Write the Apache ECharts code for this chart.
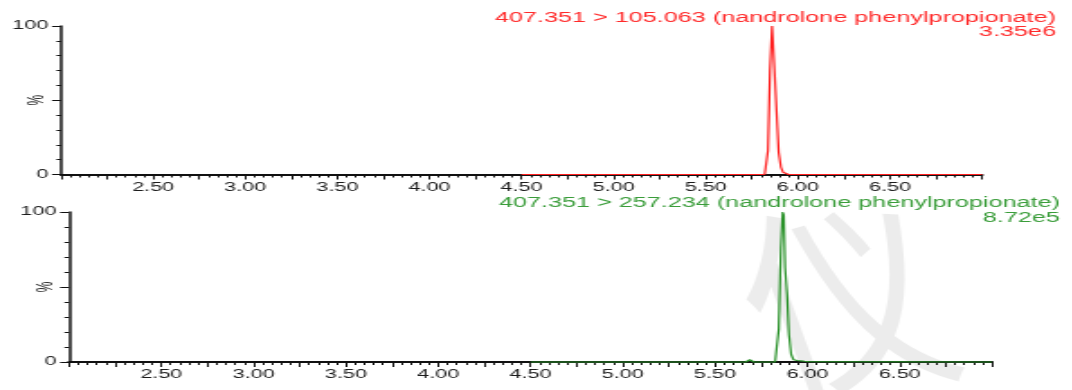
<!DOCTYPE html>
<html>
<head>
<meta charset="utf-8">
<script src="https://cdn.jsdelivr.net/npm/echarts@6/dist/echarts.min.js"></script>
<style>
  html, body { margin: 0; padding: 0; background: #fff; }
  #wrap { width: 1072px; height: 390px; overflow: hidden; background: #fff; }
  #chart { height: 390px; transform-origin: 0 0; }
</style>
</head>
<body>
<div id="wrap"><div id="chart"></div></div>
<script>
// Retention time (min) and relative intensity (%) of each MRM trace
const redTime  = [4.50, 5.31, 5.32, 5.33, 5.820, 5.829, 5.838, 5.849, 5.860, 5.866, 5.875, 5.885, 5.896, 5.908, 5.920, 5.935, 5.950, 7.00];
const redPct   = [0,    0,    0.6,  0,    0,     0.5,   16,    70,    100,   99,    66,    42,    15,    5,     1.5,   0.3,   0,     0];

const greenTime = [4.50, 5.665, 5.678, 5.688, 5.698, 5.710, 5.825, 5.838, 5.845, 5.856, 5.866, 5.872, 5.879, 5.890, 5.900, 5.912, 5.925, 5.945, 5.965, 5.985, 5.995, 6.005, 6.020, 7.00];
const greenPct  = [0,    0,     1.2,   1.5,   0.4,   0,     0,     1,     22,    76,    100,   98,    63,    45,    18,    5,     1.5,   1,     0.8,   0.5,   1,     0.3,   0,     0];

// Trace headers: transition / compound, and base-peak intensity
const redTitle   = '407.351 > 105.063 (nandrolone phenylpropionate)';
const redScale   = '3.35e6';
const greenTitle = '407.351 > 257.234 (nandrolone phenylpropionate)';
const greenScale = '8.72e5';

// Tick labels
const xLabels = ['2.50', '3.00', '3.50', '4.00', '4.50', '5.00', '5.50', '6.00', '6.50'];
const yLabels = ['0', '100'];

// The plot is laid out narrow and widened horizontally as a whole
const S = 1.8;
const W = 1072 / S;
const FONT = '"Liberation Sans", Arial, sans-serif';
const INK = '#111';
const LABEL = '#1c1c1c';

const el = document.getElementById('chart');
el.style.width = W + 'px';
el.style.transform = 'scaleX(' + S + ')';

function pairs(t, v) { return t.map((x, i) => [x, v[i]]); }

function xAxisFor(idx) {
  return {
    type: 'value', gridIndex: idx, min: 2, max: 7, interval: 0.25,
    axisLine: { show: true, onZero: false, lineStyle: { color: INK, width: 2 } },
    axisTick: { show: true, length: 5, lineStyle: { color: INK, width: 1 } },
    minorTick: { show: true, splitNumber: 5, length: 3, lineStyle: { color: INK, width: 1 } },
    splitLine: { show: false },
    axisLabel: {
      margin: 7, color: LABEL, fontSize: 12, fontFamily: FONT,
      formatter: v => { const s = v.toFixed(2); return xLabels.includes(s) ? s : ''; }
    }
  };
}

function yAxisFor(idx) {
  return {
    type: 'value', gridIndex: idx, min: 0, max: 100, interval: 50,
    name: '%', nameLocation: 'middle', nameGap: 7, nameRotate: 90, nameMoveOverlap: false,
    nameTextStyle: { color: LABEL, fontSize: 12, fontFamily: FONT },
    axisLine: { show: true, lineStyle: { color: INK, width: 1.5 } },
    axisTick: { show: true, length: 5, lineStyle: { color: INK, width: 1 } },
    minorTick: { show: true, splitNumber: 5, length: 2.5, lineStyle: { color: INK, width: 1 } },
    splitLine: { show: false },
    axisLabel: {
      margin: 7, color: LABEL, fontSize: 12, fontFamily: FONT,
      formatter: v => yLabels.includes(String(v)) ? String(v) : ''
    }
  };
}

function header(text, x, y, color) {
  return {
    type: 'text', x: x, y: y, z: 10,
    style: { text: text, fill: color, font: '14px ' + FONT, textAlign: 'right', textVerticalAlign: 'middle' }
  };
}

const chart = echarts.init(el, null, { renderer: 'canvas' });
chart.setOption({
  animation: false,
  backgroundColor: '#fff',
  grid: [
    { left: 61 / S, top: 26, width: (982 - 61) / S, height: 148.5, containLabel: false, outerBoundsMode: 'none' },
    { left: 69 / S, top: 212, width: (992 - 69) / S, height: 150, containLabel: false, outerBoundsMode: 'none' }
  ],
  xAxis: [xAxisFor(0), xAxisFor(1)],
  yAxis: [yAxisFor(0), yAxisFor(1)],
  series: [
    {
      type: 'line', xAxisIndex: 0, yAxisIndex: 0, data: pairs(redTime, redPct),
      showSymbol: false, clip: false, z: 5,
      lineStyle: { color: '#ff1f1f', width: 1.2 }
    },
    {
      type: 'line', xAxisIndex: 1, yAxisIndex: 1, data: pairs(greenTime, greenPct),
      showSymbol: false, clip: false, z: 5,
      lineStyle: { color: '#2a922a', width: 1.2 }
    }
  ],
  graphic: [
    // faint site watermark (kept at its own proportions)
    {
      type: 'text', x: 845 / S, y: 300, rotation: 0.2, scaleX: 1 / S, z: 1,
      style: { text: '仪', fill: 'rgba(0,0,0,0.075)', font: '200px "Noto Sans CJK SC"', textAlign: 'center', textVerticalAlign: 'middle' }
    },
    header(redTitle, 1056 / S, 18, '#ff2a2a'),
    header(redScale, 1056 / S, 32, '#ff2a2a'),
    header(greenTitle, 1060 / S, 203, '#3a9d3a'),
    header(greenScale, 1060 / S, 218, '#3a9d3a')
  ]
});
</script>
</body>
</html>
